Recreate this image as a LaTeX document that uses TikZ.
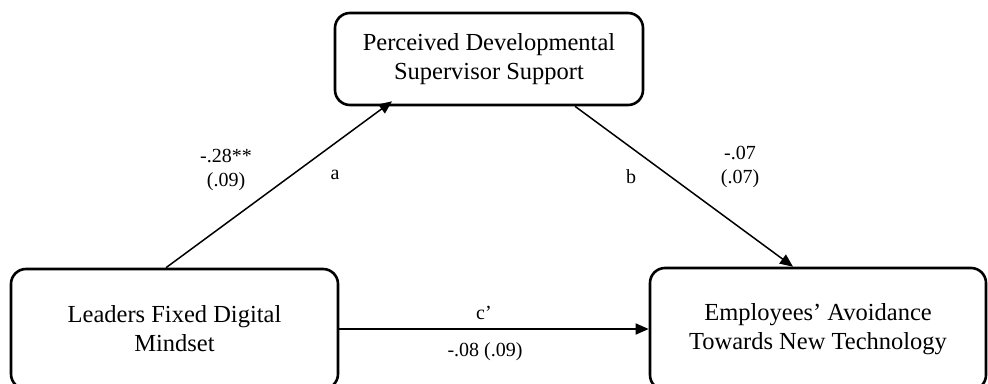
\documentclass[tikz,border=0pt]{standalone}
\usepackage{fontspec}
\setmainfont{Liberation Serif}
\usetikzlibrary{arrows.meta}
\begin{document}
\begin{tikzpicture}[x=1pt,y=-1pt,
  box/.style={draw=black,line width=2.6pt,rounded corners=15pt,align=center,
    font=\fontsize{24.5}{29}\selectfont,inner sep=0pt},
  arr/.style={line width=1.5pt,-{Triangle[length=13pt,width=11pt]}},
  lbl/.style={align=center,font=\fontsize{20}{24}\selectfont,inner sep=0pt}]
\useasboundingbox (0,0) rectangle (988,383);
\clip (0,0) rectangle (988,383);
\node[box,minimum width=308pt,minimum height=92pt] (top) at (489,59)
  {Perceived Developmental\\Supervisor Support};
\node[box,minimum width=327pt,minimum height=120pt] (left) at (174.5,329)
  {Leaders Fixed Digital\\Mindset};
\node[box,minimum width=336pt,minimum height=122pt] (right) at (818,329)
  {Employees’ Avoidance\\Towards New Technology};
\draw[arr] ([xshift=-8.5pt]left.north) -- ([xshift=-97pt,yshift=5pt]top.south);
\draw[arr] ([xshift=86pt]top.south) -- ([xshift=-25pt]right.north);
\draw[arr] (left.east) -- (right.west);
\node[lbl] (la1) at (226,170) {-.28**\\(.09)};
\node[lbl] (la2) at (335,175) {a};
\node[lbl] (lb1) at (631,177) {b};
\node[lbl] (lb2) at (740,167) {-.07\\(.07)};
\node[lbl] (lc1) at (484,313) {c’};
\node[lbl] (lc2) at (485,352) {-.08 (.09)};
\end{tikzpicture}
\end{document}
